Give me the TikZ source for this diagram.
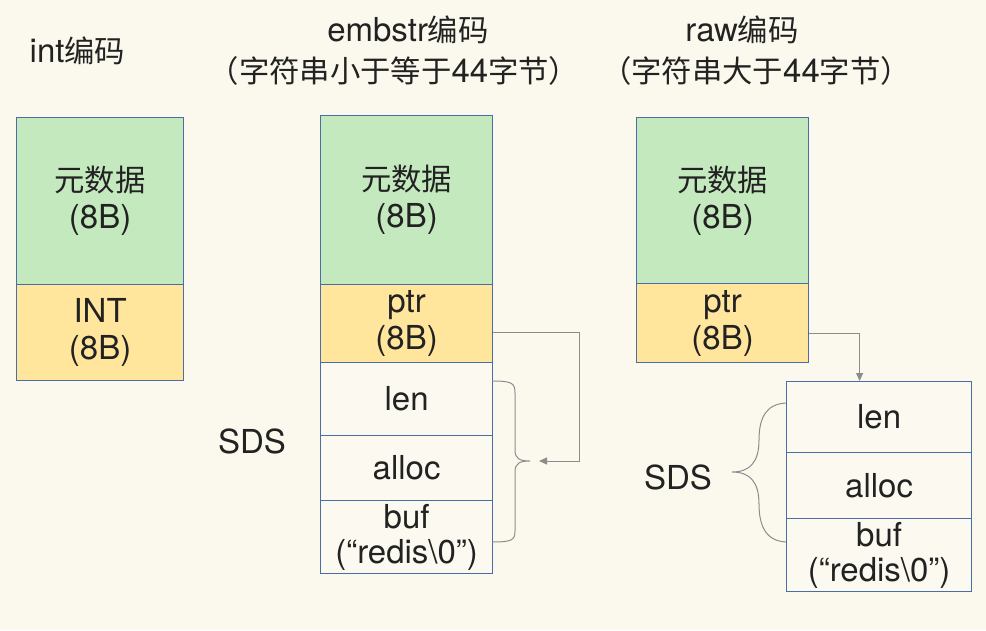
\documentclass[tikz,border=0pt]{standalone}
\usepackage{fontspec}
\setmainfont{TeX Gyre Heros}
\newfontfamily\cjk[Scale=0.92]{Noto Sans CJK SC}
\usetikzlibrary{arrows.meta}
\definecolor{bg}{HTML}{FBF9EE}
\definecolor{grn}{HTML}{C4E9BE}
\definecolor{ylw}{HTML}{FFE69C}
\definecolor{bdr}{HTML}{4A6DA8}
\definecolor{wht}{HTML}{FCFAF0}
\definecolor{conn}{HTML}{8C8C8C}
\definecolor{txt}{HTML}{222222}
\tikzset{
  cell/.style={draw=bdr, line width=1.2pt, anchor=north west, inner sep=0pt, align=center,
    text=txt, font=\fontsize{33}{37}\selectfont},
  green cell/.style={cell, fill=grn},
  yellow cell/.style={cell, fill=ylw},
  white cell/.style={cell, fill=wht},
  title/.style={text=txt, font=\fontsize{33}{38}\selectfont, align=center, inner sep=0pt},
  conn/.style={draw=conn, line width=1pt},
  brace/.style={draw=conn, line width=1pt},
}
\begin{document}
\begin{tikzpicture}[x=1pt,y=-1pt]
\useasboundingbox[fill=bg] (0,0) rectangle (986,630);
% titles
\node[title] (t1) at (77.5,51) {int{\cjk 编码}};
\node[title] (t2) at (408,30) {embstr{\cjk 编码}};
\node[title] (t2b) at (394,71) {{\cjk （字符串小于等于}44{\cjk 字节）}};
\node[title] (t3) at (742,30) {raw{\cjk 编码}};
\node[title] (t3b) at (756,71) {{\cjk （字符串大于}44{\cjk 字节）}};
% int column
\node[green cell, minimum width=167pt, minimum height=167pt] (i1) at (16,117) {{\cjk 元数据}\\(8B)};
\node[yellow cell, minimum width=167pt, minimum height=96pt] (i2) at (16,284) {INT\\(8B)};
% embstr column
\node[green cell, minimum width=172pt, minimum height=169pt] (e1) at (320,115) {{\cjk 元数据}\\(8B)};
\node[yellow cell, minimum width=172pt, minimum height=78pt] (e2) at (320,284) {ptr\\(8B)};
\node[white cell, minimum width=172pt, minimum height=73pt] (e3) at (320,362) {len};
\node[white cell, minimum width=172pt, minimum height=65pt] (e4) at (320,435) {alloc};
\node[white cell, minimum width=172pt, minimum height=73pt, font=\fontsize{33}{35}\selectfont] (e5) at (320,500) {buf\\(“redis\textbackslash0”)};
\node[title] (s1) at (252,441) {SDS};
% raw column
\node[green cell, minimum width=172pt, minimum height=166pt] (r1) at (636,117) {{\cjk 元数据}\\(8B)};
\node[yellow cell, minimum width=172pt, minimum height=79pt] (r2) at (636,283) {ptr\\(8B)};
\node[white cell, minimum width=185pt, minimum height=71pt] (r3) at (786,381) {len};
\node[white cell, minimum width=185pt, minimum height=66pt] (r4) at (786,452) {alloc};
\node[white cell, minimum width=185pt, minimum height=73pt, font=\fontsize{33}{35}\selectfont] (r5) at (786,518) {buf\\(“redis\textbackslash0”)};
\node[title] (s2) at (678,477) {SDS};
% embstr brace and arrow
\coordinate (eb) at (530,461);
\coordinate (ea) at (539,461);
\coordinate (ebt) at (492,381);
\coordinate (ebb) at (492,542);
\draw[brace] (ebt) .. controls (512,381) and (515,383) .. (515,393)
  -- (515,450) .. controls (515,459) and (520,461) .. (eb)
  .. controls (520,461) and (515,463) .. (515,472)
  -- (515,531) .. controls (515,540) and (512,542) .. (ebb);
\draw[conn, -{Triangle[length=8pt,width=7pt]}] ([yshift=-9pt]e2.east) -| (579,461) -- (ea);
% raw arrow
\draw[conn, -{Triangle[length=8pt,width=7pt]}] ([yshift=-10pt]r2.east) -| ([xshift=-19.5pt]r3.north);
% raw brace
\coordinate (rbt) at (786,403);
\coordinate (rbb) at (786,542);
\draw[brace] (rbt) .. controls (766,404) and (759,418) .. (759,440)
  .. controls (759,462) and (750,472) .. (732,472)
  .. controls (750,472) and (759,482) .. (759,504)
  .. controls (759,526) and (766,541) .. (rbb);
\end{tikzpicture}
\end{document}
